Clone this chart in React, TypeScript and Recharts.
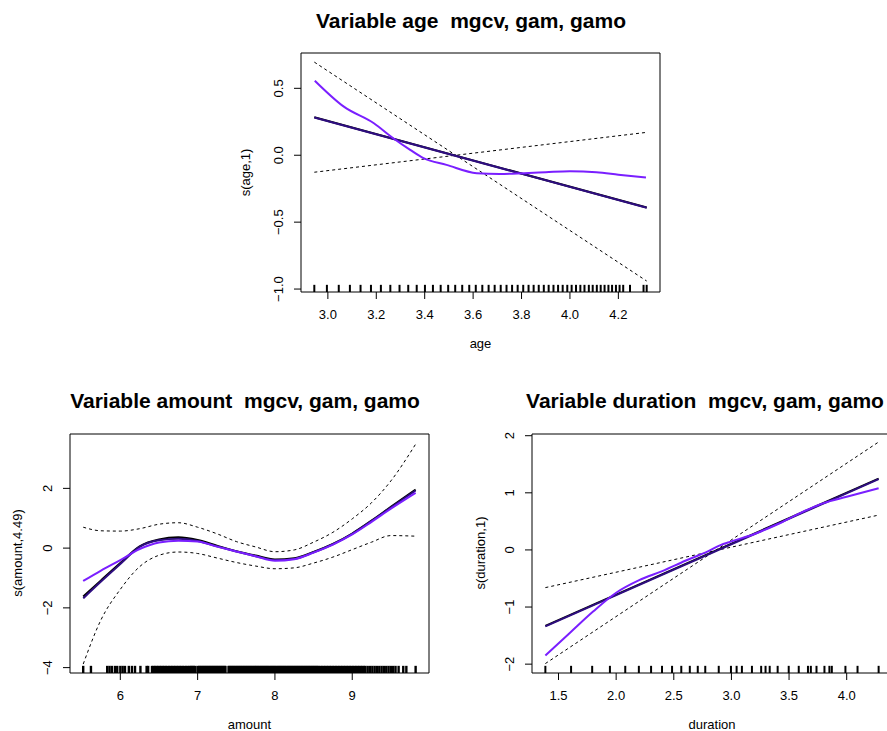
import React from "react";
import {
  ComposedChart,
  Line,
  ReferenceArea,
  Scatter,
  XAxis,
  YAxis,
} from "recharts";

const FONT = "'Liberation Sans', Arial, Helvetica, sans-serif";
const GAMO = "#7a1fff";
const GAM = "#2e0d80";
const MGCV = "#000000";

type Pt = [number, number];

// ---- age panel ----
const ageXTicks = [3.0, 3.2, 3.4, 3.6, 3.8, 4.0, 4.2];
const ageYTicks = [-1.0, -0.5, 0.0, 0.5];
const ageMgcv: Pt[] = [[2.944, 0.284], [4.317, -0.391]];
const ageGam: Pt[] = [[2.944, 0.282], [4.317, -0.392]];
const ageGamo: Pt[] = [
  [2.946, 0.557], [3.066, 0.363], [3.19, 0.239], [3.27, 0.127],
  [3.34, 0.04], [3.395, -0.022], [3.49, -0.072], [3.615, -0.134],
  [3.71, -0.14], [3.81, -0.134], [3.9, -0.127], [4.0, -0.12],
  [4.109, -0.127], [4.2, -0.145], [4.314, -0.167],
];
const ageUpper: Pt[] = [[2.944, 0.696], [4.317, -0.94]];
const ageLower: Pt[] = [[2.944, -0.127], [4.317, 0.171]];
const ageRug = [
  2.944, 2.996, 3.045, 3.091, 3.135, 3.178, 3.219, 3.258, 3.296, 3.332,
  3.367, 3.401, 3.434, 3.466, 3.497, 3.526, 3.555, 3.584, 3.611, 3.638,
  3.664, 3.689, 3.714, 3.738, 3.761, 3.784, 3.807, 3.829, 3.85, 3.871,
  3.892, 3.912, 3.932, 3.951, 3.97, 3.989, 4.007, 4.025, 4.043, 4.06,
  4.078, 4.094, 4.111, 4.127, 4.143, 4.159, 4.174, 4.19, 4.205, 4.22,
  4.248, 4.304, 4.317,
];

// ---- amount panel ----
const amountXTicks = [6, 7, 8, 9];
const amountYTicks = [-4, -2, 0, 2];
const amountX = [5.52, 5.75, 6.0, 6.25, 6.5, 6.75, 7.0, 7.25, 7.5, 7.75, 8.0, 8.25, 8.5, 8.75, 9.0, 9.25, 9.5, 9.82];
const amountMgcvY = [-1.62, -1.08, -0.5, 0.06, 0.29, 0.36, 0.27, 0.08, -0.1, -0.25, -0.38, -0.34, -0.13, 0.14, 0.49, 0.92, 1.38, 1.96];
const amountGamY = [-1.68, -1.12, -0.53, 0.04, 0.26, 0.31, 0.24, 0.06, -0.11, -0.27, -0.4, -0.36, -0.14, 0.13, 0.48, 0.91, 1.36, 1.93];
const amountGamoY = [-1.1, -0.75, -0.4, -0.03, 0.19, 0.25, 0.22, 0.05, -0.11, -0.27, -0.42, -0.37, -0.15, 0.12, 0.46, 0.88, 1.32, 1.85];
const amountUpperY = [0.7, 0.58, 0.57, 0.65, 0.8, 0.85, 0.7, 0.48, 0.22, 0.04, -0.12, -0.06, 0.2, 0.53, 0.98, 1.52, 2.25, 3.48];
const amountLowerY = [-3.88, -2.4, -1.38, -0.62, -0.24, -0.13, -0.18, -0.33, -0.48, -0.6, -0.69, -0.66, -0.5, -0.3, -0.05, 0.2, 0.42, 0.4];
const amountRug = [
  5.52, 5.62, 5.83, 5.86, 5.89, 5.93, 5.96, 6.0, 6.03, 6.06, 6.11, 6.15, 6.19, 6.26,
  6.34, 6.36, 6.41, 6.43, 6.45, 6.47, 6.49, 6.51, 6.53, 6.55, 6.57, 6.59, 6.61, 6.63,
  6.65, 6.67, 6.69, 6.71, 6.73, 6.75, 6.77, 6.79, 6.81, 6.83, 6.85, 6.87, 6.89, 6.91,
  6.92, 6.94, 6.95, 6.97, 7.0, 7.02, 7.03, 7.05, 7.06, 7.08, 7.09, 7.11, 7.12, 7.14,
  7.15, 7.17, 7.18, 7.2, 7.21, 7.23, 7.24, 7.26, 7.27, 7.29, 7.3, 7.32, 7.33, 7.35,
  7.36, 7.4, 7.41, 7.43, 7.44, 7.46, 7.47, 7.49, 7.5, 7.52, 7.53, 7.55, 7.56, 7.58,
  7.59, 7.61, 7.62, 7.64, 7.65, 7.67, 7.68, 7.7, 7.71, 7.73, 7.74, 7.76, 7.77, 7.79,
  7.8, 7.82, 7.83, 7.85, 7.86, 7.88, 7.89, 7.91, 7.92, 7.94, 7.95, 7.97, 7.98, 8.0,
  8.01, 8.03, 8.04, 8.06, 8.07, 8.09, 8.1, 8.12, 8.13, 8.15, 8.16, 8.18, 8.19, 8.21,
  8.22, 8.24, 8.25, 8.27, 8.28, 8.3, 8.31, 8.33, 8.34, 8.36, 8.37, 8.39, 8.4, 8.42,
  8.43, 8.45, 8.46, 8.48, 8.49, 8.51, 8.52, 8.54, 8.55, 8.57, 8.59, 8.61, 8.63, 8.65,
  8.67, 8.69, 8.71, 8.73, 8.75, 8.77, 8.79, 8.81, 8.83, 8.85, 8.87, 8.89, 8.91, 8.93,
  8.95, 8.97, 8.99, 9.01, 9.03, 9.05, 9.07, 9.09, 9.11, 9.13, 9.15, 9.17, 9.2, 9.23,
  9.26, 9.29, 9.32, 9.35, 9.38, 9.41, 9.44, 9.47, 9.5, 9.53, 9.56, 9.6, 9.66, 9.7, 9.82,
];

// ---- duration panel ----
const durationXTicks = [1.5, 2.0, 2.5, 3.0, 3.5, 4.0];
const durationYTicks = [-2, -1, 0, 1, 2];
const durationMgcv: Pt[] = [[1.386, -1.33], [4.277, 1.25]];
const durationGam: Pt[] = [[1.386, -1.34], [4.277, 1.24]];
const durationGamo: Pt[] = [
  [1.386, -1.85], [1.6, -1.45], [1.8, -1.08], [2.0, -0.75], [2.2, -0.53],
  [2.4, -0.37], [2.6, -0.19], [2.8, -0.02], [2.9, 0.08], [3.0, 0.15],
  [3.2, 0.28], [3.4, 0.45], [3.6, 0.65], [3.8, 0.82], [4.0, 0.93], [4.277, 1.08],
];
const durationUpper: Pt[] = [[1.386, -1.99], [4.277, 1.89]];
const durationLower: Pt[] = [[1.386, -0.66], [4.277, 0.61]];
const durationRug = [
  1.386, 1.609, 1.792, 1.946, 2.079, 2.197, 2.303, 2.398, 2.485, 2.565, 2.639,
  2.708, 2.773, 2.89, 2.996, 3.045, 3.091, 3.178, 3.258, 3.296, 3.332, 3.401,
  3.497, 3.584, 3.664, 3.689, 3.738, 3.807, 3.85, 3.871, 3.989, 4.094, 4.277,
];

const zip = (xs: number[], ys: number[]): Pt[] => xs.map((x, i) => [x, ys[i]]);
const minus = (s: string) => s.replace("-", "\u2212");

type Series = { pts: Pt[]; color: string; width: number; dash?: string; curve?: boolean };
type PanelCfg = {
  box: [number, number, number, number];
  xDomain: [number, number];
  yDomain: [number, number];
  xTicks: number[];
  yTicks: number[];
  xFmt: (v: number) => string;
  yFmt: (v: number) => string;
  series: Series[];
  rug: number[];
  rugWidth: number;
};

function Panel({ cfg }: { cfg: PanelCfg }) {
  const [bl, bt, br, bb] = cfg.box;
  const W = 900;
  const H = 731;
  const AX = 40;
  const margin = { left: bl - AX, top: bt, right: W - br, bottom: H - bb - AX };
  const rugData = cfg.rug.map((x) => ({ x, y: cfg.yDomain[0] }));
  const rugLen = 0.03 * (bb - bt);
  const tx = bl - 17.5;

  return (
    <div style={{ position: "absolute", left: 0, top: 0 }}>
      <ComposedChart width={W} height={H} margin={margin}>
        <XAxis
          type="number"
          dataKey="x"
          domain={cfg.xDomain}
          allowDataOverflow
          ticks={cfg.xTicks}
          interval={0}
          height={AX}
          axisLine={false}
          tickSize={7}
          tickLine={{ stroke: "#000" }}
          tick={(p: any) => (
            <text x={p.x} y={bb + 27} textAnchor="middle" fontSize={13} fontFamily={FONT} fill="#000">
              {cfg.xFmt(p.payload.value)}
            </text>
          )}
        />
        <YAxis
          type="number"
          dataKey="y"
          domain={cfg.yDomain}
          allowDataOverflow
          ticks={cfg.yTicks}
          interval={0}
          width={AX}
          axisLine={false}
          tickSize={7}
          tickLine={{ stroke: "#000" }}
          tick={(p: any) => (
            <text
              x={tx}
              y={p.y}
              transform={`rotate(-90 ${tx} ${p.y})`}
              textAnchor="middle"
              fontSize={13}
              fontFamily={FONT}
              fill="#000"
            >
              {cfg.yFmt(p.payload.value)}
            </text>
          )}
        />
        <ReferenceArea
          x1={cfg.xDomain[0]}
          x2={cfg.xDomain[1]}
          y1={cfg.yDomain[0]}
          y2={cfg.yDomain[1]}
          fill="none"
          stroke="#000"
          strokeWidth={1}
        />
        {cfg.series.map((s, i) => (
          <Line
            key={i}
            data={s.pts.map(([x, y]) => ({ x, y }))}
            dataKey="y"
            type={s.curve ? "monotone" : "linear"}
            stroke={s.color}
            strokeWidth={s.width}
            strokeDasharray={s.dash}
            dot={false}
            activeDot={false}
            isAnimationActive={false}
          />
        ))}
        <Scatter
          data={rugData}
          dataKey="y"
          isAnimationActive={false}
          shape={(p: any) => (
            <line
              x1={p.cx}
              x2={p.cx}
              y1={p.cy}
              y2={p.cy - rugLen}
              stroke="#000"
              strokeWidth={cfg.rugWidth}
            />
          )}
        />
      </ComposedChart>
    </div>
  );
}

const agePanel: PanelCfg = {
  box: [301, 53, 660, 292],
  xDomain: [2.889, 4.372],
  yDomain: [-1.022, 0.764],
  xTicks: ageXTicks,
  yTicks: ageYTicks,
  xFmt: (v) => v.toFixed(1),
  yFmt: (v) => minus(v.toFixed(1)),
  series: [
    { pts: ageUpper, color: "#000", width: 1, dash: "3 3" },
    { pts: ageLower, color: "#000", width: 1, dash: "3 3" },
    { pts: ageMgcv, color: MGCV, width: 2 },
    { pts: ageGam, color: GAM, width: 2 },
    { pts: ageGamo, color: GAMO, width: 2, curve: true },
  ],
  rug: ageRug,
  rugWidth: 2,
};

const amountPanel: PanelCfg = {
  box: [70, 434, 429, 673],
  xDomain: [5.349, 9.993],
  yDomain: [-4.18, 3.82],
  xTicks: amountXTicks,
  yTicks: amountYTicks,
  xFmt: (v) => String(v),
  yFmt: (v) => minus(String(v)),
  series: [
    { pts: zip(amountX, amountUpperY), color: "#000", width: 1, dash: "3 3", curve: true },
    { pts: zip(amountX, amountLowerY), color: "#000", width: 1, dash: "3 3", curve: true },
    { pts: zip(amountX, amountMgcvY), color: MGCV, width: 2, curve: true },
    { pts: zip(amountX, amountGamY), color: GAM, width: 2, curve: true },
    { pts: zip(amountX, amountGamoY), color: GAMO, width: 2, curve: true },
  ],
  rug: amountRug,
  rugWidth: 2.4,
};

const durationPanel: PanelCfg = {
  box: [532, 434, 892, 673],
  xDomain: [1.27, 4.393],
  yDomain: [-2.155, 2.03],
  xTicks: durationXTicks,
  yTicks: durationYTicks,
  xFmt: (v) => v.toFixed(1),
  yFmt: (v) => minus(String(v)),
  series: [
    { pts: durationUpper, color: "#000", width: 1, dash: "3 3" },
    { pts: durationLower, color: "#000", width: 1, dash: "3 3" },
    { pts: durationMgcv, color: MGCV, width: 2 },
    { pts: durationGam, color: GAM, width: 2 },
    { pts: durationGamo, color: GAMO, width: 2, curve: true },
  ],
  rug: durationRug,
  rugWidth: 2,
};

const titleStyle = { fontFamily: FONT, fontSize: 21, fontWeight: 700 as const, whiteSpace: "pre" as const };
const labelStyle = { fontFamily: FONT, fontSize: 13 };

export default function App() {
  return (
    <div
      style={{
        position: "absolute",
        left: 0,
        top: 0,
        width: 887,
        height: 731,
        overflow: "hidden",
        background: "#fff",
      }}
    >
      <Panel cfg={agePanel} />
      <Panel cfg={amountPanel} />
      <Panel cfg={durationPanel} />
      <svg width={887} height={731} style={{ position: "absolute", left: 0, top: 0, pointerEvents: "none" }}>
        <text x={471} y={27.5} textAnchor="middle" style={titleStyle}>
          Variable age  mgcv, gam, gamo
        </text>
        <text x={245} y={408} textAnchor="middle" style={titleStyle}>
          Variable amount  mgcv, gam, gamo
        </text>
        <text x={705} y={408} textAnchor="middle" style={titleStyle}>
          Variable duration  mgcv, gam, gamo
        </text>
        <text x={480.5} y={348} textAnchor="middle" style={labelStyle}>age</text>
        <text x={249.5} y={729} textAnchor="middle" style={labelStyle}>amount</text>
        <text x={712} y={729} textAnchor="middle" style={labelStyle}>duration</text>
        <text x={250} y={172.5} textAnchor="middle" transform="rotate(-90 250 172.5)" style={labelStyle}>
          s(age,1)
        </text>
        <text x={21.7} y={553} textAnchor="middle" transform="rotate(-90 21.7 553)" style={labelStyle}>
          s(amount,4.49)
        </text>
        <text x={485} y={553} textAnchor="middle" transform="rotate(-90 485 553)" style={labelStyle}>
          s(duration,1)
        </text>
      </svg>
    </div>
  );
}
